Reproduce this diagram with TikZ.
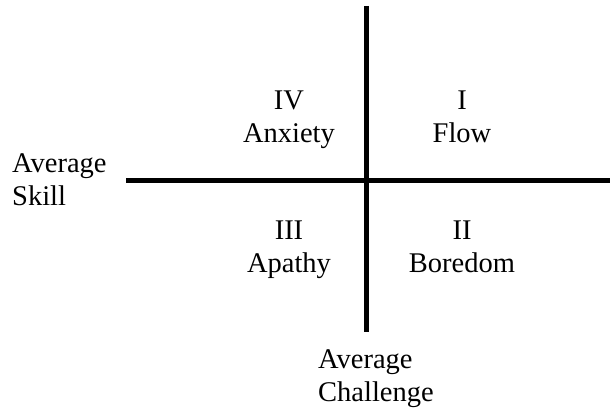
\documentclass[tikz,border=0pt]{standalone}
\usepackage{fontspec}
\setmainfont{Liberation Serif}
\usetikzlibrary{positioning}

\begin{document}
\begin{tikzpicture}[x=1pt, y=1pt,
        axis/.style={line width=5pt, black},
        quad/.style={inner sep=0pt, align=center, anchor=base, font=\fontsize{28.5}{33}\selectfont},
        axislbl/.style={inner sep=0pt, align=left, anchor=base west, font=\fontsize{28.5}{33}\selectfont}
      ]
        \useasboundingbox (0,0) rectangle (610,412);
        % Achsen
        \coordinate (top) at (366,406);
        \coordinate (bottom) at (366,80);
        \coordinate (left) at (126,231);
        \coordinate (right) at (610,231);
        \draw[axis] (top) -- (bottom);
        \draw[axis] (left) -- (right);
        % Quadranten
        \node[quad] (q4) at (289,269) {IV\\Anxiety};
        \node[quad] (q1) at (462,269) {I\\Flow};
        \node[quad] (q3) at (289,139) {III\\Apathy};
        \node[quad] (q2) at (462,139) {II\\Boredom};
        % Achsenbeschriftungen
        \node[axislbl] (skill) at (12,206) {Average\\Skill};
        \node[axislbl] (chall) at (318,10) {Average\\Challenge};
      \end{tikzpicture}
\end{document}
